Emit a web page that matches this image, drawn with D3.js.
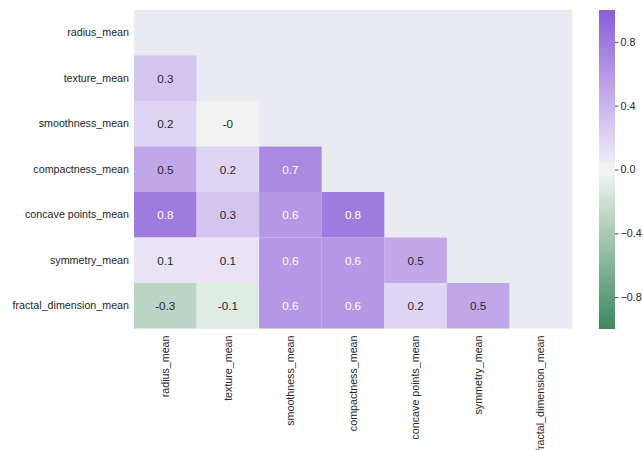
<!DOCTYPE html>
<html>
<head>
<meta charset="utf-8">
<script src="https://cdn.jsdelivr.net/npm/d3@7"></script>
<style>
  html, body { margin: 0; padding: 0; background: #ffffff; }
  svg { display: block; font-family: "Liberation Sans", Arial, sans-serif; }
</style>
</head>
<body>
<svg id="chart" width="643" height="450"></svg>
<script>
// ---- data ----
const variables = ["radius_mean", "texture_mean", "smoothness_mean", "compactness_mean",
                   "concave points_mean", "symmetry_mean", "fractal_dimension_mean"];
// lower-triangle correlation values (rounded), row i has i entries (columns 0..i-1)
const corrRows = [
  [],
  [0.3],
  [0.2, -0.0],
  [0.5, 0.2, 0.7],
  [0.8, 0.3, 0.6, 0.8],
  [0.1, 0.1, 0.6, 0.6, 0.5],
  [-0.3, -0.1, 0.6, 0.6, 0.2, 0.5]
];
const colorbarTicks = [-0.8, -0.4, 0.0, 0.4, 0.8];

// ---- layout ----
const svg = d3.select("#chart");
const plot = { left: 134, right: 572, top: 10, bottom: 328.5 };
const cbar = { left: 599, right: 615, top: 10, bottom: 329 };

const x = d3.scaleBand().domain(variables).range([plot.left, plot.right]);
const y = d3.scaleBand().domain(variables).range([plot.top, plot.bottom]);

// diverging colormap (green <-> light center <-> purple)
const sepHalf = 0.04;
const green = "#3c865f", greenLight = "#eaf3ee", center = "#f2f2f2",
      purpleLight = "#efecf8", purple = "#8a5cd9";
const color = d3.scaleLinear()
  .domain([-1, -sepHalf, -sepHalf + 0.0001, sepHalf - 0.0001, sepHalf, 1])
  .range([green, greenLight, center, center, purpleLight, purple])
  .interpolate(d3.interpolateRgb)
  .clamp(true);

function relLum(c) {
  const r = d3.rgb(c);
  const f = v => { v /= 255; return v <= 0.03928 ? v / 12.92 : Math.pow((v + 0.055) / 1.055, 2.4); };
  return 0.2126 * f(r.r) + 0.7152 * f(r.g) + 0.0722 * f(r.b);
}

// axes background
svg.append("rect")
  .attr("x", plot.left).attr("y", plot.top)
  .attr("width", plot.right - plot.left).attr("height", plot.bottom - plot.top)
  .attr("fill", "#eaeaf2");

// cells
const cells = [];
corrRows.forEach((row, i) => row.forEach((v, j) => cells.push({ row: variables[i], col: variables[j], v })));

svg.append("g").selectAll("rect").data(cells).join("rect")
  .attr("x", d => x(d.col)).attr("y", d => y(d.row))
  .attr("width", x.bandwidth()).attr("height", y.bandwidth())
  .attr("fill", d => color(d.v));

const fmt = v => {
  if (Object.is(v, -0) || (v === 0 && 1 / v < 0)) return "-0";
  return String(+v.toFixed(2));
};
svg.append("g").selectAll("text").data(cells).join("text")
  .attr("x", d => x(d.col) + x.bandwidth() / 2)
  .attr("y", d => y(d.row) + y.bandwidth() / 2)
  .attr("text-anchor", "middle").attr("dominant-baseline", "central")
  .attr("font-size", "11.7px")
  .attr("fill", d => relLum(color(d.v)) > 0.408 ? "#262626" : "#ffffff")
  .text(d => fmt(d.v));

// y axis labels
const yAxis = d3.axisLeft(y).tickSize(0).tickPadding(5);
const gy = svg.append("g").attr("transform", `translate(${plot.left},0)`).call(yAxis);
gy.select(".domain").remove();
gy.selectAll("text").attr("font-size", "10.7px").attr("fill", "#262626")
  .style("font-family", "'Liberation Sans', Arial, sans-serif");

// x axis labels (rotated)
const xAxis = d3.axisBottom(x).tickSize(0).tickPadding(0);
const gx = svg.append("g").attr("transform", `translate(0,${plot.bottom})`).call(xAxis);
gx.select(".domain").remove();
gx.selectAll("text")
  .attr("font-size", "10.7px").attr("fill", "#262626")
  .style("font-family", "'Liberation Sans', Arial, sans-serif")
  .attr("transform", "rotate(-90)")
  .attr("x", -7).attr("y", 0).attr("dy", "0.35em")
  .attr("text-anchor", "end");

// colorbar
const cy = d3.scaleLinear().domain([-1, 1]).range([cbar.bottom, cbar.top]);
const defs = svg.append("defs");
const grad = defs.append("linearGradient").attr("id", "cbgrad")
  .attr("x1", 0).attr("y1", 1).attr("x2", 0).attr("y2", 0);
d3.range(0, 257).forEach(k => {
  const v = -1 + 2 * k / 256;
  grad.append("stop").attr("offset", k / 256).attr("stop-color", color(v));
});
svg.append("rect")
  .attr("x", cbar.left).attr("y", cbar.top)
  .attr("width", cbar.right - cbar.left).attr("height", cbar.bottom - cbar.top)
  .attr("fill", "url(#cbgrad)");

const cAxis = d3.axisRight(cy).tickValues(colorbarTicks).tickSize(3.5).tickPadding(2)
  .tickFormat(d => d3.format(".1f")(d).replace("-", "\u2212"));
const gc = svg.append("g").attr("transform", `translate(${cbar.right},0)`).call(cAxis);
gc.select(".domain").remove();
gc.selectAll("line").attr("stroke", "#262626").attr("stroke-width", 0.8);
gc.selectAll("text").attr("font-size", "10.7px").attr("fill", "#262626")
  .style("font-family", "'Liberation Sans', Arial, sans-serif");
</script>
</body>
</html>
